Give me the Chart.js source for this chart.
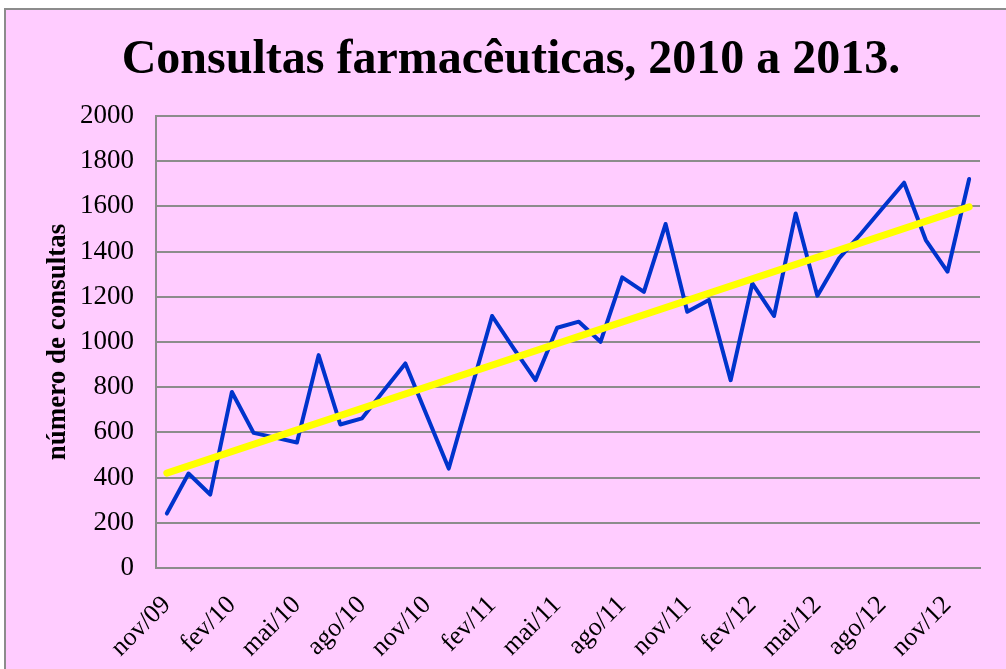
<!DOCTYPE html>
<html>
<head>
<meta charset="utf-8">
<script src="https://cdn.jsdelivr.net/npm/chart.js@4/dist/chart.umd.min.js"></script>
<style>
    html, body { margin: 0; padding: 0; background: #ffffff; overflow: hidden; }
    #frame {
        position: absolute; left: 4px; top: 8px; width: 1010px; height: 670px;
        background: #ffccff; border: 2px solid #8c8c8c;
    }
    #wrap { position: absolute; left: 0; top: 0; width: 1006px; height: 669px; }
</style>
</head>
<body>
<div id="frame"></div>
<div id="wrap"><canvas id="consultasChart"></canvas></div>
<script>
// meses (nov/09 a dez/12)
const meses = [
    'nov/09', 'dez/09', 'jan/10', 'fev/10', 'mar/10', 'abr/10', 'mai/10', 'jun/10',
    'jul/10', 'ago/10', 'set/10', 'out/10', 'nov/10', 'dez/10', 'jan/11', 'fev/11',
    'mar/11', 'abr/11', 'mai/11', 'jun/11', 'jul/11', 'ago/11', 'set/11', 'out/11',
    'nov/11', 'dez/11', 'jan/12', 'fev/12', 'mar/12', 'abr/12', 'mai/12', 'jun/12',
    'jul/12', 'ago/12', 'set/12', 'out/12', 'nov/12', 'dez/12'
];

const consultas = [
    241, 418, 325, 779, 598, 577, 555, 942,
    635, 662, 784, 905, 673, 440, 778, 1115,
    971, 831, 1063, 1090, 1001, 1286, 1222, 1522,
    1134, 1186, 831, 1259, 1115, 1569, 1205, 1370,
    1478, 1592, 1705, 1451, 1311, 1721
];

// linha de tendência: só os dois extremos
const tendencia = meses.map(() => null);
tendencia[0] = 420;
tendencia[meses.length - 1] = 1598;

const yTicks = [0, 200, 400, 600, 800, 1000, 1200, 1400, 1600, 1800, 2000];

const serif = '"Liberation Serif", "Times New Roman", serif';
const gridColor = '#8c8c8c';

const ctx = document.getElementById('consultasChart').getContext('2d');
new Chart(ctx, {
    type: 'line',
    data: {
        labels: meses,
        datasets: [
            {
                label: 'tendência',
                data: tendencia,
                spanGaps: true,
                borderColor: '#ffff00',
                borderWidth: 7,
                borderCapStyle: 'round',
                pointRadius: 0,
                tension: 0,
                order: 0
            },
            {
                label: 'consultas',
                data: consultas,
                borderColor: '#0033cc',
                borderWidth: 4,
                borderJoinStyle: 'round',
                borderCapStyle: 'round',
                pointRadius: 0,
                tension: 0,
                order: 1
            }
        ]
    },
    options: {
        responsive: true,
        maintainAspectRatio: false,
        animation: false,
        layout: { padding: { left: 42, right: 26, top: 32, bottom: 0 } },
        plugins: {
            legend: { display: false },
            tooltip: { enabled: false },
            title: {
                display: true,
                text: 'Consultas farmacêuticas, 2010 a 2013.',
                color: '#000',
                font: { family: serif, size: 48, weight: 'bold' },
                padding: { top: 0, bottom: 26.4 }
            }
        },
        scales: {
            x: {
                offset: true,
                grid: { display: false, drawTicks: false },
                border: { display: true, color: gridColor, width: 2 },
                afterFit: (s) => {
                    s.height = 101;
                    s.paddingLeft = 0;
                    s.paddingRight = 0;
                },
                ticks: {
                    autoSkip: false,
                    maxRotation: 45,
                    minRotation: 45,
                    padding: 22,
                    color: '#000',
                    font: { family: serif, size: 26 },
                    callback: function (v, i) { return i % 3 === 0 ? meses[i] : ''; }
                }
            },
            y: {
                min: 0,
                max: 2000,
                afterBuildTicks: (s) => { s.ticks = yTicks.map(v => ({ value: v })); },
                afterFit: (s) => { s.width = 156 - 42; },
                grid: { color: gridColor, lineWidth: 2, drawTicks: false },
                border: { display: true, color: gridColor, width: 2 },
                ticks: {
                    padding: 22,
                    color: '#000',
                    font: { family: serif, size: 27 },
                    callback: (v) => String(v)
                },
                title: {
                    display: true,
                    text: 'número de consultas',
                    color: '#000',
                    font: { family: serif, size: 27, weight: 'bold' },
                    padding: { top: 0, bottom: 0 }
                }
            }
        }
    }
});
</script>
</body>
</html>
